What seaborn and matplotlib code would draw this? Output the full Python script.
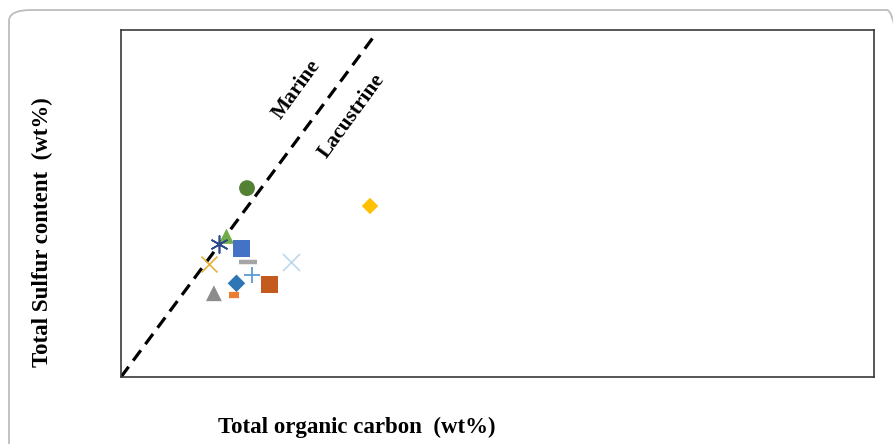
import matplotlib
matplotlib.use("Agg")
import matplotlib.pyplot as plt
from matplotlib.patches import FancyBboxPatch
import seaborn as sns
import pandas as pd

sns.set_theme(style="white")
plt.rcParams["font.family"] = ["Liberation Serif", "DejaVu Serif"]
plt.rcParams["text.color"] = "black"

# Sample measurements: total organic carbon vs total sulfur (wt%)
samples = ["S1", "S2", "S3", "S4", "S5", "S6", "S7", "S8", "S9", "S10", "S11", "S12", "S13"]
toc = [2.51, 4.96, 2.10, 1.96, 2.40, 2.52, 1.76, 3.38, 2.61, 2.30, 2.95, 1.85, 2.26]
sulfur = [3.81, 3.45, 2.84, 2.68, 2.59, 2.31, 2.28, 2.31, 2.05, 1.89, 1.87, 1.69, 1.66]
markers = ["o", "D", "^", (6, 2, 0), "s", "_", "x", "x", "+", "D", "s", "^", "_"]
colors = ["#548235", "#FFC000", "#70AD47", "#2F4A8A", "#4472C4", "#A5A5A5",
          "#E6B13A", "#BDD7EE", "#5B9BD5", "#2E75B6", "#C55A1E", "#8C8C8C", "#ED7D31"]
sizes = [130, 70, 120, 150, 150, 150, 130, 150, 130, 80, 150, 130, 50]
widths = [0, 0, 0, 1.2, 0, 3.2, 1.2, 1.2, 1.3, 0, 0, 0, 4.5]

# Marine / lacustrine boundary
boundary_x = [0.0, 5.06]
boundary_y = [0.0, 6.90]

fig = plt.figure(figsize=(8.93, 4.44), dpi=100)
ax = fig.add_axes([121 / 893, 1 - 377 / 444, 753 / 893, 347 / 444])

sns.lineplot(x=boundary_x, y=boundary_y, ax=ax, color="black", lw=2.3,
             linestyle=(0, (4, 2.4)))

df = pd.DataFrame({"sample": samples, "toc": toc, "s": sulfur})
for i, row in df.iterrows():
    m = markers[i]
    lined = m in ("x", "+", "_") or isinstance(m, tuple)
    if lined:
        sns.scatterplot(x=[row.toc], y=[row.s], ax=ax, marker=m, s=sizes[i],
                        color=colors[i], linewidth=widths[i], zorder=3)
    else:
        sns.scatterplot(x=[row.toc], y=[row.s], ax=ax, marker=m, s=sizes[i],
                        color=colors[i], edgecolor="none", zorder=3)

ax.set_xlim(0, 15)
ax.set_ylim(0, 7)
ax.set_xticks([])
ax.set_yticks([])
ax.set_xlabel("")
ax.set_ylabel("")
for sp in ax.spines.values():
    sp.set_color("#3a3a3a")
    sp.set_linewidth(1.2)

ax.text(3.49, 5.8, "Marine", rotation=54, ha="center", va="center",
        fontsize=15.5, fontweight="bold", color="black")
ax.text(4.60, 5.26, "Lacustrine", rotation=54, ha="center", va="center",
        fontsize=15.5, fontweight="bold", color="black")

fig.text(357 / 893, 1 - 427 / 444, "Total organic carbon  (wt%)", ha="center",
         va="center", fontsize=16.5, fontweight="bold", color="black")
fig.text(42 / 893, 1 - 232 / 444, "Total Sulfur content  (wt%)", ha="center",
         va="center", rotation=90, fontsize=16.5, fontweight="bold", color="black")

frame = FancyBboxPatch((9 / 893, -10 / 444), 900 / 893, 444 / 444,
                       boxstyle="round,pad=0,rounding_size=0.025",
                       transform=fig.transFigure, facecolor="none",
                       edgecolor="#bdbdbd", linewidth=1.3, zorder=-1)
fig.patches.append(frame)

fig.savefig("out.png", dpi=100)
